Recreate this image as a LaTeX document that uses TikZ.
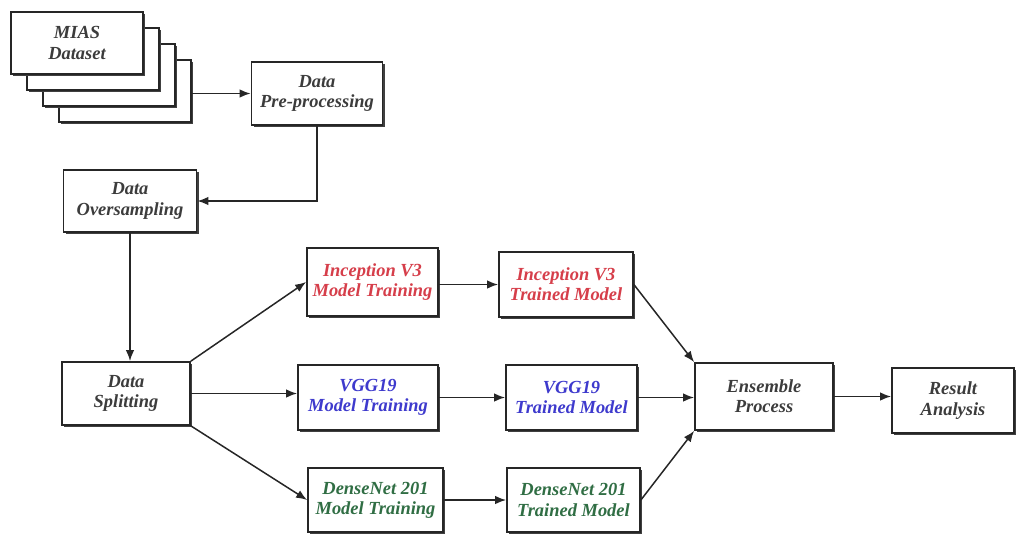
\documentclass[tikz,border=0pt]{standalone}
\usepackage{fontspec}
\setmainfont{Liberation Serif}
\usetikzlibrary{arrows.meta,shadows}
\definecolor{txtgray}{RGB}{60,60,60}
\definecolor{incred}{RGB}{214,62,74}
\definecolor{vggblue}{RGB}{62,58,205}
\definecolor{dengreen}{RGB}{48,110,68}
\tikzset{
  box/.style={draw=black!85, line width=0.035cm, fill=white, align=center, inner sep=0pt,
    font=\fontsize{10.5}{11.5}\selectfont\bfseries\itshape, text=txtgray,
    drop shadow={shadow xshift=0.045cm, shadow yshift=-0.045cm, fill=black!75, opacity=1}},
  conn/.style={line width=0.03cm, draw=black!85, -{Latex[length=0.22cm,width=0.17cm]}},
  plain/.style={line width=0.03cm, draw=black!85}
}
\begin{document}
\begin{tikzpicture}[x=0.02cm,y=-0.02cm]
\useasboundingbox (0,0) rectangle (1017,534);
% MIAS stack
\node[box, minimum width=2.64cm, minimum height=1.24cm] (m4) at (125,91) {};
\node[box, minimum width=2.64cm, minimum height=1.24cm] (m3) at (109,75) {};
\node[box, minimum width=2.64cm, minimum height=1.24cm] (m2) at (93,59) {};
\node[box, minimum width=2.64cm, minimum height=1.24cm] (m1) at (77,43) {MIAS\\Dataset};
% pipeline
\node[box, minimum width=2.62cm, minimum height=1.26cm] (pre) at (317,93.5) {Data\\Pre-processing};
\node[box, minimum width=2.66cm, minimum height=1.24cm] (over) at (130,201) {Data\\Oversampling};
\node[box, minimum width=2.56cm, minimum height=1.26cm] (split) at (126,393.5) {Data\\Splitting};
% models
\node[box, text=incred, minimum width=2.62cm, minimum height=1.36cm] (inc1) at (372.5,282) {Inception V3\\Model Training};
\node[box, text=incred, minimum width=2.68cm, minimum height=1.3cm] (inc2) at (566,284.5) {Inception V3\\Trained Model};
\node[box, text=vggblue, minimum width=2.8cm, minimum height=1.3cm] (vgg1) at (368,397.5) {VGG19\\Model Training};
\node[box, text=vggblue, minimum width=2.62cm, minimum height=1.3cm] (vgg2) at (571.5,397.5) {VGG19\\Trained Model};
\node[box, text=dengreen, minimum width=2.7cm, minimum height=1.28cm] (den1) at (375.5,500) {DenseNet 201\\Model Training};
\node[box, text=dengreen, minimum width=2.66cm, minimum height=1.28cm] (den2) at (573.5,500) {DenseNet 201\\Trained Model};
\node[box, minimum width=2.76cm, minimum height=1.34cm] (ens) at (764,396.5) {Ensemble\\Process};
\node[box, minimum width=2.44cm, minimum height=1.3cm] (res) at (953,400.5) {Result\\Analysis};
% connectors
\draw[conn] (pre.west -| m4.east) -- (pre.west);
\draw[conn] (pre.south) |- (over.east);
\draw[conn] (over.south) -- (over.south |- split.north);
\draw[conn] (split.north east) -- (inc1.west);
\draw[conn] (split.east) -- (split.east -| vgg1.west);
\draw[conn] (split.south east) -- (den1.west);
\draw[conn] (inc2.west -| inc1.east) -- (inc2.west);
\draw[conn] (vgg1.east) -- (vgg2.west);
\draw[conn] (den1.east) -- (den2.west);
\draw[conn] (inc2.east) -- (ens.north west);
\draw[conn] (vgg2.east) -- (vgg2.east -| ens.west);
\draw[conn] (den2.east) -- (ens.south west);
\draw[conn] (ens.east) -- (res.west |- ens.east);
\end{tikzpicture}
\end{document}
